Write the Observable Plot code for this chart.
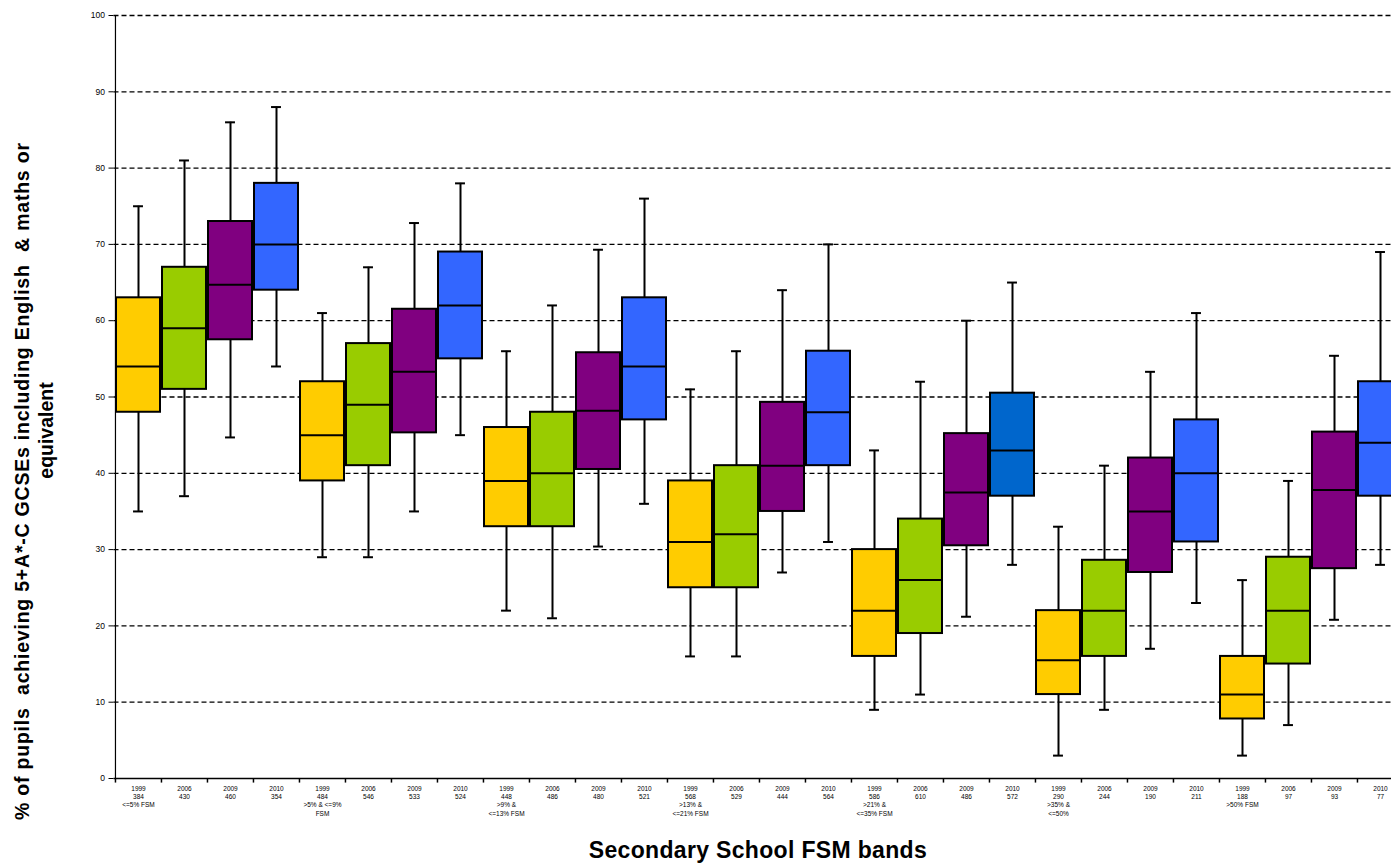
<!DOCTYPE html>
<html>
<head>
<meta charset="utf-8">
<script src="https://cdn.jsdelivr.net/npm/d3@7"></script>
<script src="https://cdn.jsdelivr.net/npm/@observablehq/plot@0.6"></script>
<style>
  html, body { margin: 0; padding: 0; background: #fff; overflow: hidden; }
  #chart svg { overflow: hidden; display: block; }
</style>
</head>
<body>
<div id="chart"></div>
<script>
// ---- data ----
const bands = ["<=5% FSM", ">5% & <=9%\nFSM", ">9% &\n<=13% FSM", ">13% &\n<=21% FSM", ">21% &\n<=35% FSM", ">35% &\n<=50%", ">50% FSM"];
const years = ["1999", "2006", "2009", "2010"];
const counts = ["384","430","460","354", "484","546","533","524", "448","486","480","521", "568","529","444","564", "586","610","486","572", "290","244","190","211", "188","97","93","77"];
const lows    = [35,37,44.7,54, 29,29,35,45, 22,21,30.4,36, 16,16,27,31, 9,11,21.2,28, 3,9,17,23, 3,7,20.8,28];
const q1s     = [48,51,57.5,64, 39,41,45.3,55, 33,33,40.5,47, 25,25,35,41, 16,19,30.5,37, 11,16,27,31, 7.8,15,27.5,37];
const medians = [54,59,64.7,70, 45,49,53.3,62, 39,40,48.2,54, 31,32,41,48, 22,26,37.5,43, 15.5,22,35,40, 11,22,37.8,44];
const q3s     = [63,67,73,78, 52,57,61.5,69, 46,48,55.8,63, 39,41,49.3,56, 30,34,45.2,50.5, 22,28.6,42,47, 16,29,45.4,52];
const highs   = [75,81,86,88, 61,67,72.8,78, 56,62,69.3,76, 51,56,64,70, 43,52,60,65, 33,41,53.3,61, 26,39,55.4,69];
const yTicks  = [0,10,20,30,40,50,60,70,80,90,100];
const xTitle = "Secondary School FSM bands";
const yTitle1 = "% of pupils  achieving 5+A*-C GCSEs including English  & maths or";
const yTitle2 = "equivalent";

// ---- styles ----
const yearColors = {"1999": "#FFCC00", "2006": "#99CC00", "2009": "#800080", "2010": "#3366FF"};
const highlightColor = "#0066CC"; // 2010 box of the >21% band is drawn darker in the source

const table = counts.map((c, i) => {
  const g = Math.floor(i / 4), y = years[i % 4];
  return {
    key: String(i), group: g, year: y, count: c,
    low: lows[i], q1: q1s[i], median: medians[i], q3: q3s[i], high: highs[i],
    label: y + "\n" + c + (i % 4 === 0 ? "\n" + bands[g] : ""),
    fill: (g === 4 && y === "2010") ? highlightColor : yearColors[y]
  };
});
const keys = table.map(d => d.key);
const labelOf = new Map(table.map(d => [d.key, d.label]));

const W = 1391, H = 863, mLeft = 113.5, mTop = 15, yBottom = 778, xEnd = 1403.5;
const bandW = (xEnd - mLeft) / keys.length;
const capInset = (bandW - 10) / 2;

const chart = Plot.plot({
  width: W, height: H,
  marginLeft: mLeft, marginTop: mTop, marginBottom: H - yBottom, marginRight: 0,
  style: {fontFamily: "'Liberation Sans', Arial, sans-serif", background: "#fff", color: "#000"},
  x: {type: "band", domain: keys, range: [mLeft, xEnd], padding: 0},
  y: {domain: [0, 100], range: [yBottom, mTop]},
  color: {type: "identity"},
  marks: [
    Plot.ruleY(yTicks.filter(v => v > 0), {stroke: "#000", strokeWidth: 1.3, strokeDasharray: "5,3"}),
    Plot.ruleX(table, {x: "key", y1: "low", y2: "high", stroke: "#000", strokeWidth: 2}),
    Plot.tickY(table, {x: "key", y: "low", stroke: "#000", strokeWidth: 2, insetLeft: capInset, insetRight: capInset}),
    Plot.tickY(table, {x: "key", y: "high", stroke: "#000", strokeWidth: 2, insetLeft: capInset, insetRight: capInset}),
    Plot.barY(table, {x: "key", y1: "q1", y2: "q3", fill: "fill", stroke: "#000", strokeWidth: 2, insetLeft: 1, insetRight: 1}),
    Plot.tickY(table, {x: "key", y: "median", stroke: "#000", strokeWidth: 2, insetLeft: 1, insetRight: 1}),
    Plot.ruleY([0], {stroke: "#000", strokeWidth: 1.5}),
    Plot.ruleX([keys[0]], {x: d => d, y1: 0, y2: 100, dx: -bandW / 2, stroke: "#000", strokeWidth: 1.2}),
    Plot.ruleX(keys, {x: d => d, y1: 0, y2: -0.6, dx: -bandW / 2, stroke: "#000", strokeWidth: 1.5}),
    Plot.axisY({ticks: yTicks, tickSize: 5, tickPadding: 4, fontSize: 8.5, label: null, tickFormat: d => String(d)}),
    Plot.axisX({tickSize: 0, tickPadding: 6, fontSize: 6.5, lineHeight: 1.3, label: null, tickFormat: k => labelOf.get(k)}),
    Plot.text([xTitle], {frameAnchor: "bottom", textAnchor: "middle", lineAnchor: "middle", dx: 5, dy: 72, fontSize: 23, fontWeight: "bold"}),
    Plot.text([yTitle1], {frameAnchor: "left", textAnchor: "middle", lineAnchor: "middle", rotate: -90, dx: -91, dy: 84.5, fontSize: 19.5, fontWeight: "bold"}),
    Plot.text([yTitle2], {frameAnchor: "left", textAnchor: "middle", lineAnchor: "middle", rotate: -90, dx: -67, dy: 33.5, fontSize: 19.5, fontWeight: "bold"})
  ]
});
// stretch the long axis title to the span it occupies in the source
d3.select(chart).selectAll("text").filter(function() { return this.textContent === yTitle1; })
  .attr("textLength", 677).attr("lengthAdjust", "spacing");
d3.select(chart).selectAll("text").filter(function() { return this.textContent === xTitle; })
  .attr("textLength", 338).attr("lengthAdjust", "spacing");
document.getElementById("chart").appendChild(chart);
</script>
</body>
</html>
